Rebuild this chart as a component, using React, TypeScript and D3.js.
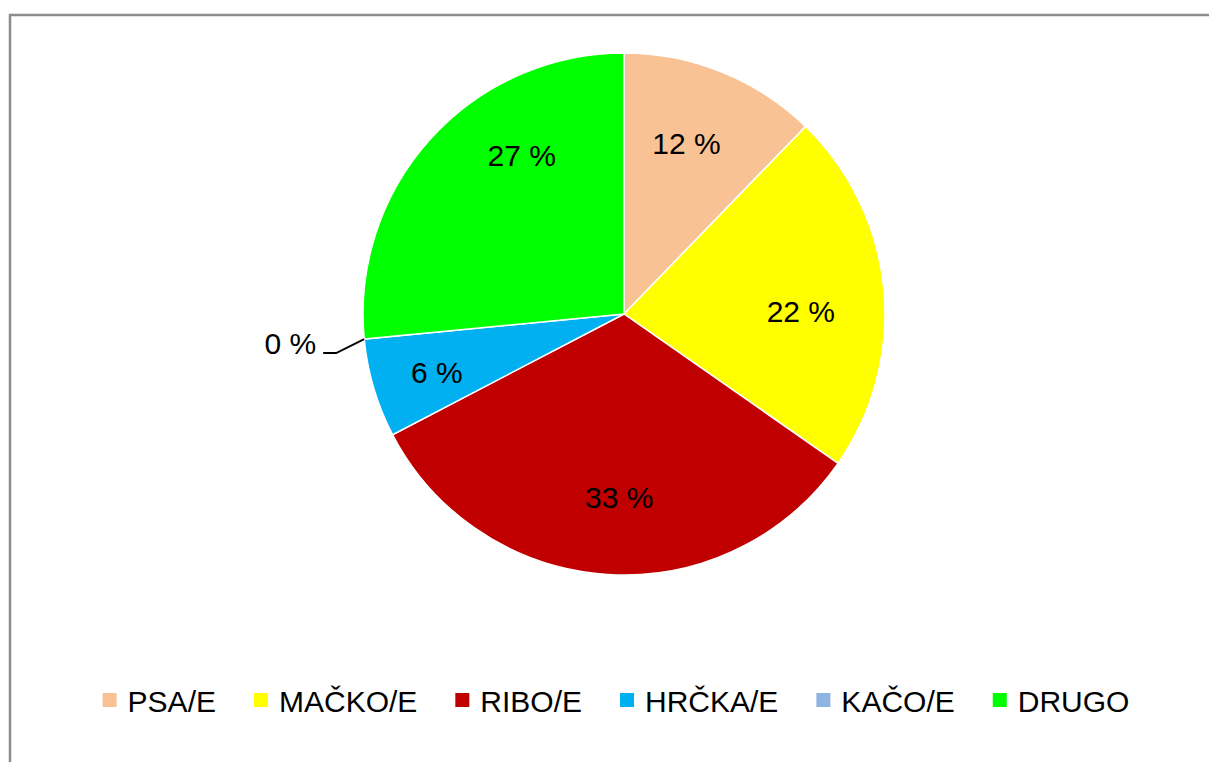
import React from "react";
import * as d3 from "d3";

const categories = ["PSA/E", "MAČKO/E", "RIBO/E", "HRČKA/E", "KAČO/E", "DRUGO"];
const counts = [6, 11, 16, 3, 0, 13];
const colors = ["#F9C294", "#FFFF00", "#C00000", "#00B0F0", "#8DB4E2", "#00FF00"];
// label nudges (px) from centroid, layout only
const labelNudge: [number, number][] = [
  [-6, -1],
  [-5, 15],
  [7, 1],
  [-12, 6],
  [0, 0],
  [33, -36],
];

const W = 1209;
const H = 762;
const CX = 624;
const CY = 314;
const R = 261;
const FONT = "'Liberation Sans', Arial, sans-serif";
const FS = 30;

function measure(text: string): number {
  const c = document.createElement("canvas").getContext("2d");
  if (!c) return text.length * FS * 0.6;
  c.font = `${FS}px 'Liberation Sans', Arial, sans-serif`;
  return c.measureText(text).width;
}

export default function App() {
  const total = d3.sum(counts);
  const pie = d3
    .pie<number>()
    .sort(null)
    .value((d) => d);
  const arcs = pie(counts);
  const arc = d3.arc<d3.PieArcDatum<number>>().innerRadius(0).outerRadius(R);
  const labelArc = d3
    .arc<d3.PieArcDatum<number>>()
    .innerRadius(R * 0.7)
    .outerRadius(R * 0.7);
  const pct = (v: number) => `${Math.round((v / total) * 100)} %`;

  // legend layout
  const markerSize = 14;
  const textGap = 25;
  const itemGap = 38;
  const widths = categories.map((c) => textGap + measure(c));
  const totalW = d3.sum(widths) + itemGap * (categories.length - 1);
  const legendCenter = 616;
  let lx = legendCenter - totalW / 2;
  const legendX = widths.map((w) => {
    const x = lx;
    lx += w + itemGap;
    return x;
  });

  return (
    <svg
      width={W}
      height={H}
      style={{ position: "absolute", left: 0, top: 0, display: "block" }}
      fontFamily={FONT}
    >
      <rect x={0} y={0} width={W} height={H} fill="#ffffff" />
      <rect
        x={10}
        y={15}
        width={1400}
        height={1000}
        fill="none"
        stroke="#8c8c8c"
        strokeWidth={2.5}
      />
      <g transform={`translate(${CX},${CY})`}>
        {arcs.map((a, i) =>
          a.value > 0 ? (
            <path
              key={i}
              d={arc(a) || ""}
              fill={colors[i]}
              stroke="#ffffff"
              strokeWidth={1.5}
            />
          ) : null
        )}
        {arcs.map((a, i) => {
          if (a.value <= 0) {
            const ang = a.startAngle;
            const sx = R * Math.sin(ang);
            const sy = -R * Math.cos(ang);
            const ex = sx - 28;
            const ey = sy + 14;
            const hx = ex - 13;
            return (
              <g key={`z${i}`}>
                <polyline
                  points={`${sx},${sy} ${ex},${ey} ${hx},${ey}`}
                  fill="none"
                  stroke="#000"
                  strokeWidth={2}
                />
                <text
                  x={hx - 7}
                  y={ey - 10}
                  dy="0.36em"
                  textAnchor="end"
                  fontSize={FS}
                  fill="#000"
                >
                  {pct(a.value)}
                </text>
              </g>
            );
          }
          const [x, y] = labelArc.centroid(a);
          const [nx, ny] = labelNudge[i];
          return (
            <text
              key={`l${i}`}
              x={x + nx}
              y={y + ny}
              dy="0.36em"
              textAnchor="middle"
              fontSize={FS}
              fill="#000"
            >
              {pct(a.value)}
            </text>
          );
        })}
      </g>
      <g>
        {categories.map((c, i) => (
          <g key={c} transform={`translate(${legendX[i]},0)`}>
            <rect x={0} y={693} width={markerSize} height={markerSize} fill={colors[i]} />
            <text x={textGap} y={712} fontSize={FS} fill="#000">
              {c}
            </text>
          </g>
        ))}
      </g>
    </svg>
  );
}
